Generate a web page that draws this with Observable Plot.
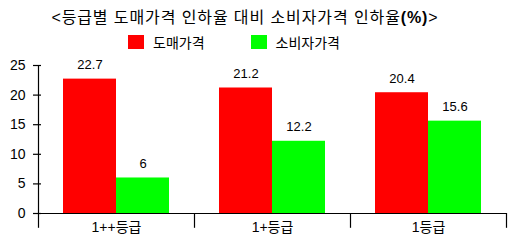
<!DOCTYPE html>
<html>
<head>
<meta charset="utf-8">
<script src="https://cdn.jsdelivr.net/npm/d3@7"></script>
<script src="https://cdn.jsdelivr.net/npm/@observablehq/plot@0.6"></script>
<style>
  body { margin: 0; background: #fff; font-family: "Liberation Sans", "Noto Sans CJK KR", sans-serif; color: #000; }
  #head { position: relative; width: 520px; height: 55px; }
  #title { position: absolute; top: 9px; left: 0; width: 490px; text-align: center; font-size: 16px; line-height: 18px; white-space: nowrap; letter-spacing: 0.9px; }
  #legend { position: absolute; top: 34px; left: 128px; display: flex; align-items: center; height: 16px; font-size: 14px; }
  .sw { width: 16px; height: 14px; margin-right: 9px; }
  .lab { margin-right: 46px; }
  #chart svg { display: block; }
</style>
</head>
<body>
<div id="head">
  <div id="title">&lt;등급별 도매가격 인하율 대비 소비자가격 인하율<b>(%)</b>&gt;</div>
  <div id="legend"></div>
</div>
<div id="chart"></div>
<script>
const grades = ["1++등급", "1+등급", "1등급"];
const seriesNames = ["도매가격", "소비자가격"];
const wholesale = [22.7, 21.2, 20.4];
const consumer = [6, 12.2, 15.6];
const yTicks = [0, 5, 10, 15, 20, 25];
const colors = ["#ff0000", "#00ff00"];

const rows = [];
grades.forEach((g, i) => {
  rows.push({grade: g, series: seriesNames[0], value: wholesale[i]});
  rows.push({grade: g, series: seriesNames[1], value: consumer[i]});
});

// legend
const legend = document.getElementById("legend");
seriesNames.forEach((s, i) => {
  const sw = document.createElement("div");
  sw.className = "sw";
  sw.style.background = colors[i];
  const lab = document.createElement("span");
  lab.className = "lab";
  lab.textContent = s;
  legend.appendChild(sw);
  legend.appendChild(lab);
});

const W = 520, H = 195, mL = 38, mR = 14, mT = 10, mB = 37;
const fw = (W - mL - mR) / grades.length;
const sepDepth = -2.5;
const yMax = 25;

const chart = Plot.plot({
  width: W, height: H,
  marginLeft: mL, marginRight: mR, marginTop: mT, marginBottom: mB,
  style: {fontFamily: '"Liberation Sans", "Noto Sans CJK KR", sans-serif', color: "#000", background: "#fff", overflow: "visible"},
  fx: {domain: grades, padding: 0, label: null},
  x: {domain: seriesNames, paddingInner: 0, paddingOuter: 0.47, axis: null},
  y: {domain: [0, yMax], axis: null},
  color: {domain: seriesNames, range: colors},
  marks: [
    Plot.barY(rows, {fx: "grade", x: "series", y: "value", fill: "series"}),
    Plot.text(rows, {fx: "grade", x: "series", y: "value", text: d => String(d.value), dy: -14, fontSize: 13, fill: "#000"}),
    Plot.ruleY([0], {stroke: "#000", strokeWidth: 1.2}),
    Plot.ruleX(grades, {fx: d => d, x: null, y1: sepDepth, y2: (d, i) => i === 0 ? yMax : 0, dx: -fw / 2, stroke: "#000", strokeWidth: 1.2}),
    Plot.ruleX([grades[grades.length - 1]], {fx: d => d, x: null, y1: sepDepth, y2: 0, dx: fw / 2, stroke: "#000", strokeWidth: 1.2}),
    Plot.axisY(yTicks, {anchor: "left", tickSize: 8, dx: 3, text: null, strokeWidth: 1.2, label: null}),
    Plot.axisY(yTicks, {anchor: "left", tickSize: 0, tickPadding: 13, fontSize: 14, label: null}),
    Plot.axisFx({anchor: "bottom", tickSize: 0, tickPadding: 9, fontSize: 14, label: null})
  ]
});
document.getElementById("chart").appendChild(chart);
</script>
</body>
</html>
